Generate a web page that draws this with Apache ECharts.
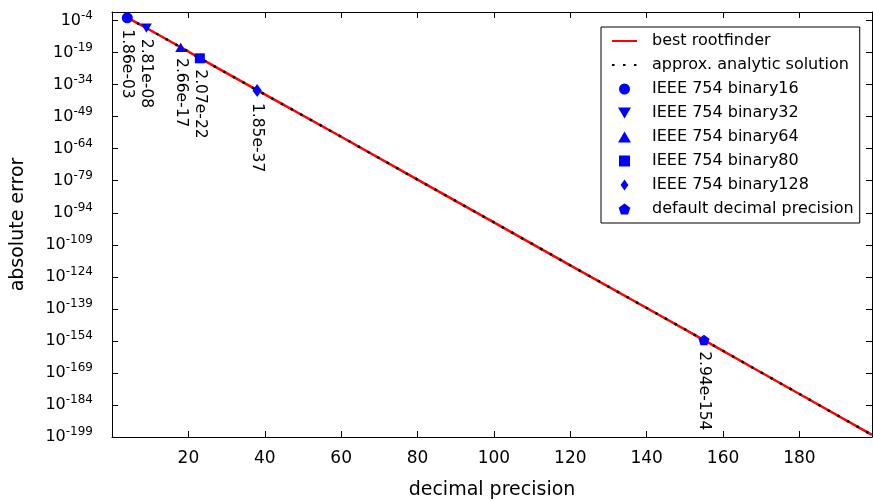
<!DOCTYPE html>
<html>
<head>
<meta charset="utf-8">
<script src="https://cdn.jsdelivr.net/npm/echarts@6/dist/echarts.min.js"></script>
<style>
html, body { margin: 0; padding: 0; background: #fff; }
#chart { width: 873px; height: 502px; }
</style>
</head>
<body>
<div id="chart"></div>
<script>
// samples (x = decimal precision, y = log10 of absolute error)
const precision = [4, 9, 18, 23, 38, 60, 80, 100, 120, 140, 155, 170, 185, 199];
const bestLog = [-2.6, -7.5, -16.5, -21.6, -36.6, -58.4, -78.5, -98.5, -118.6, -138.6, -153.6, -168.8, -183.9, -198.0];
const approxLog = [-2.6, -7.5, -16.5, -21.6, -36.6, -58.4, -78.5, -98.5, -118.6, -138.6, -153.6, -168.8, -183.9, -198.0];

// the marked formats
const formatNames = ['IEEE 754 binary16', 'IEEE 754 binary32', 'IEEE 754 binary64',
  'IEEE 754 binary80', 'IEEE 754 binary128', 'default decimal precision'];
const formatPrecision = [4, 9, 18, 23, 38, 155];
const formatError = [1.86e-3, 2.81e-8, 2.66e-17, 2.07e-22, 1.85e-37, 2.94e-154];

// axis setup
const xMin = 0, xMax = 199, xStep = 20;
const yFloor = -199, yTop = 0, yStep = 15;   // log10 range, ticks every 15 decades from the floor

const FONT = 'DejaVu Sans';
const pentagon = 'path://M0,-1L0.951,-0.309L0.588,0.809L-0.588,0.809L-0.951,-0.309Z';
const triDown = 'path://M-1,-0.8L1,-0.8L0,0.9Z';
const triUp = 'path://M0,-0.9L1,0.8L-1,0.8Z';
const square = 'path://M-1,-1L1,-1L1,1L-1,1Z';
const diamond = 'path://M0,-1.4L1,0L0,1.4L-1,0Z';
const markerStyles = [
  { symbol: 'circle', size: 11 },
  { symbol: triDown, size: 11 },
  { symbol: triUp, size: 11 },
  { symbol: square, size: 10 },
  { symbol: diamond, size: 13 },
  { symbol: pentagon, size: 11 }
];

function sci(v) {
  var parts = v.toExponential(2).split('e');
  var n = parseInt(parts[1], 10);
  return parts[0] + 'e' + (n < 0 ? '-' : '+') + String(Math.abs(n)).padStart(2, '0');
}

var chart = echarts.init(document.getElementById('chart'));

var axisLine = { show: true, onZero: false, lineStyle: { color: '#000', width: 1 } };
var axisTick = { show: true, inside: true, length: 6, lineStyle: { color: '#000', width: 1 } };

var series = [
  {
    name: 'best rootfinder',
    type: 'line',
    symbol: 'none',
    data: precision.map((x, i) => [x, bestLog[i] - yFloor]),
    lineStyle: { color: '#ff0000', width: 2.5 },
    itemStyle: { color: '#ff0000' },
    z: 2
  },
  {
    name: 'approx. analytic solution',
    type: 'line',
    symbol: 'none',
    data: precision.map((x, i) => [x, approxLog[i] - yFloor]),
    lineStyle: { color: '#000', width: 2.5, type: [2.5, 8.5] },
    itemStyle: { color: '#000' },
    z: 3
  }
];

formatNames.forEach(function (name, i) {
  var st = markerStyles[i];
  series.push({
    name: name,
    type: 'scatter',
    symbol: st.symbol,
    symbolSize: st.size,
    symbolKeepAspect: true,
    itemStyle: { color: '#0000ff', opacity: 1 },
    data: [[formatPrecision[i], Math.log10(formatError[i]) - yFloor]],
    label: {
      show: true,
      position: 'bottom',
      distance: 6,
      rotate: -90,
      align: 'left',
      verticalAlign: 'middle',
      fontFamily: FONT,
      fontSize: 15.5,
      color: '#000',
      formatter: function () { return sci(formatError[i]); }
    },
    z: 5
  });
});

var option = {
  animation: false,
  backgroundColor: '#fff',
  textStyle: { fontFamily: FONT },
  grid: { left: 112, right: 1, top: 12, bottom: 65, outerBoundsMode: 'none', containLabel: false },
  legend: {
    orient: 'vertical',
    left: 601,
    top: 27,
    padding: [6, 6, 6, 10],
    itemWidth: 25,
    itemHeight: 11,
    itemGap: 8,
    symbolKeepAspect: true,
    borderColor: '#000',
    borderWidth: 1,
    backgroundColor: '#fff',
    textStyle: { fontFamily: FONT, fontSize: 16, color: '#000', padding: [0, 0, 0, 10] },
    data: [
      { name: 'best rootfinder', itemStyle: { opacity: 0 } },
      { name: 'approx. analytic solution', itemStyle: { opacity: 0 } }
    ].concat(formatNames)
  },
  xAxis: [
    {
      type: 'value', min: xMin, max: xMax, interval: xStep, position: 'bottom',
      axisLine: axisLine, axisTick: axisTick, splitLine: { show: false },
      axisLabel: {
        margin: 13, fontSize: 17, color: '#000', fontFamily: FONT,
        formatter: function (v) { return (v > 0 && v % xStep === 0) ? String(v) : ''; }
      },
      name: 'decimal precision', nameLocation: 'middle', nameGap: 44,
      nameTextStyle: { fontSize: 19, color: '#000', fontFamily: FONT }
    },
    {
      type: 'value', min: xMin, max: xMax, interval: xStep, position: 'top',
      axisLine: axisLine, axisTick: axisTick, splitLine: { show: false },
      axisLabel: { show: false }
    }
  ],
  yAxis: [
    {
      type: 'value', min: 0, max: yTop - yFloor, interval: yStep, position: 'left',
      axisLine: axisLine, axisTick: axisTick, splitLine: { show: false },
      axisLabel: {
        margin: 19, color: '#000', fontFamily: FONT,
        formatter: function (v) {
          if (v >= yTop - yFloor) return '';
          return '{b|10}{s|' + (v + yFloor) + '}';
        },
        rich: {
          b: { fontSize: 16, fontFamily: FONT, color: '#000', padding: [3, 0, 3, 0] },
          s: { fontSize: 12, fontFamily: FONT, color: '#000', verticalAlign: 'top' }
        }
      },
      name: 'absolute error', nameLocation: 'middle', nameGap: 84,
      nameTextStyle: { fontSize: 19, color: '#000', fontFamily: FONT }
    },
    {
      type: 'value', min: 0, max: yTop - yFloor, interval: yStep, position: 'right',
      axisLine: axisLine, axisTick: axisTick, splitLine: { show: false },
      axisLabel: { show: false }
    }
  ],
  series: series
};

chart.setOption(option);
</script>
</body>
</html>
